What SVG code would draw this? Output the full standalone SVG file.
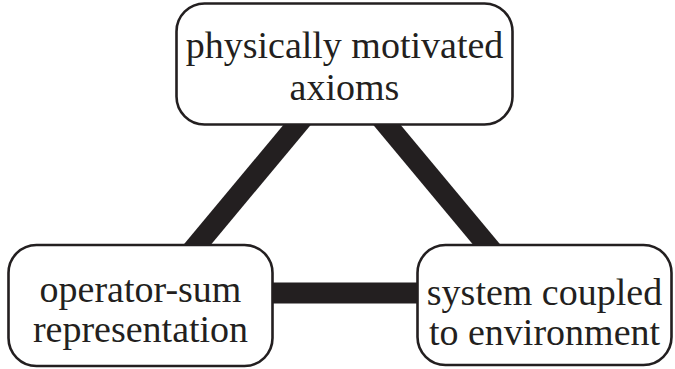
<svg xmlns="http://www.w3.org/2000/svg" width="675" height="369" viewBox="0 0 675 369">
<style>
.box{fill:#fff;stroke:#231f20;stroke-width:2.6}
.lbl{font-family:"Liberation Serif","Times New Roman",serif;font-size:38px;fill:#231f20;text-anchor:middle}
.conn{stroke:#231f20;stroke-width:21;fill:none}
</style>
<rect width="675" height="369" fill="#fff"/>
<g id="connectors">
<line class="conn" x1="309.5" y1="110" x2="184.5" y2="260"/>
<line class="conn" x1="374.5" y1="110" x2="499.5" y2="260"/>
<line class="conn" x1="260" y1="293" x2="430" y2="293"/>
</g>
<g id="axioms">
<rect class="box" x="176.5" y="3.5" width="336" height="121" rx="28"/>
<text class="lbl" x="344.5" y="58">physically motivated</text>
<text class="lbl" x="344.5" y="100">axioms</text>
</g>
<g id="operator-sum">
<rect class="box" x="8.5" y="245" width="264" height="121" rx="28"/>
<text class="lbl" x="140.5" y="302">operator-sum</text>
<text class="lbl" x="140.5" y="342">representation</text>
</g>
<g id="system">
<rect class="box" x="417.5" y="245" width="254" height="120" rx="28"/>
<text class="lbl" x="544.5" y="305">system coupled</text>
<text class="lbl" x="544.5" y="345">to environment</text>
</g>
</svg>
